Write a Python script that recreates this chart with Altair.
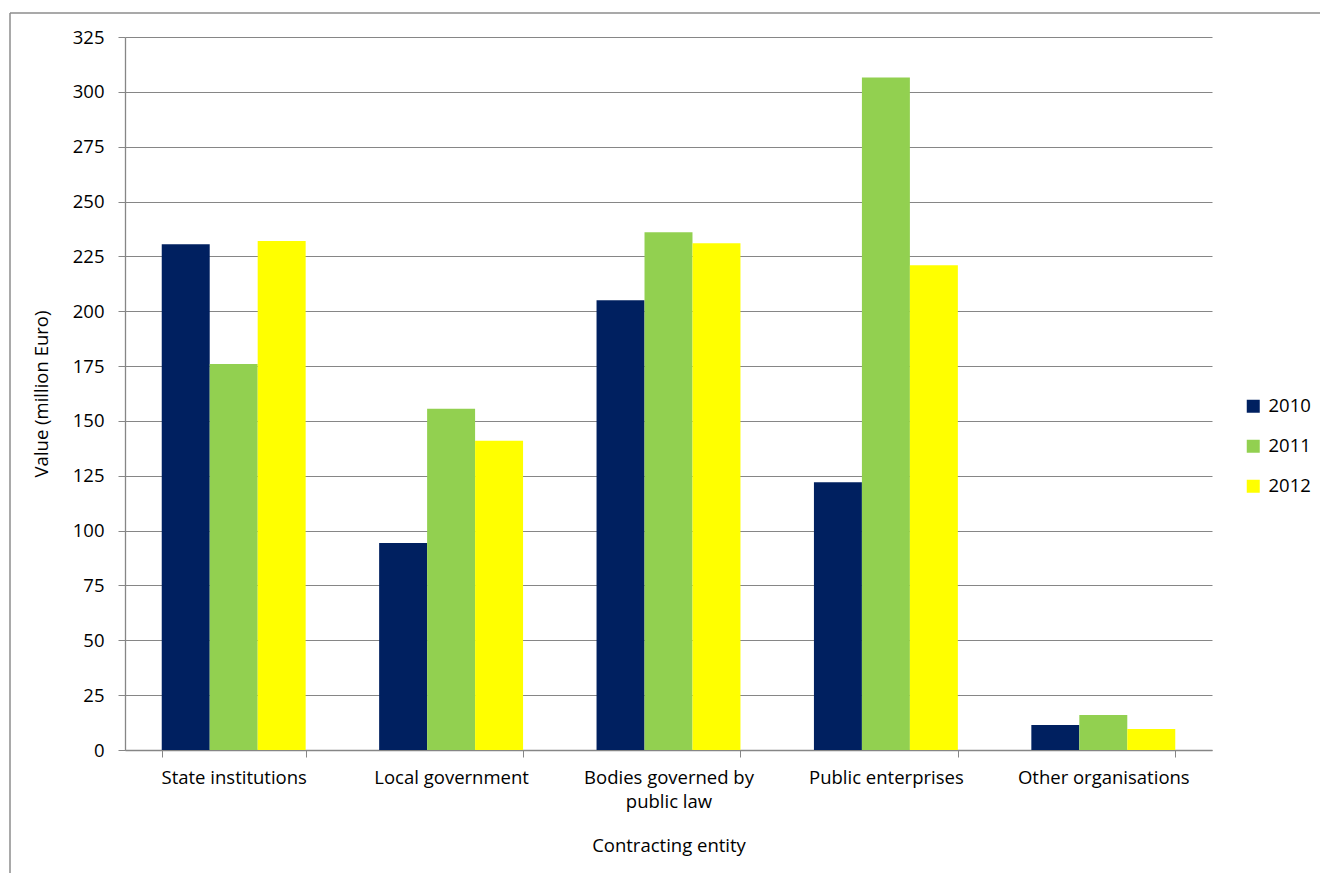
import altair as alt
import pandas as pd

# Contract value by contracting entity and year (million Euro)
entities = [
    "State institutions",
    "Local government",
    "Bodies governed by public law",
    "Public enterprises",
    "Other organisations",
]
years = ["2010", "2011", "2012"]
values_2010 = [230.5, 94.3, 205.0, 122.0, 11.4]
values_2011 = [176.0, 155.5, 236.0, 306.5, 16.0]
values_2012 = [232.0, 141.0, 231.0, 221.0, 9.6]
colors = ["#002060", "#92D050", "#FFFF00"]

rows = []
for yr, vals in zip(years, [values_2010, values_2011, values_2012]):
    for ent, v in zip(entities, vals):
        rows.append({"entity": ent, "year": yr, "value": v})
df = pd.DataFrame(rows)

FONT = "Open Sans"
FS = 18.5
W, H = 1087, 713
GRAY = "#868686"

axis_common = dict(
    labelFont=FONT,
    titleFont=FONT,
    labelFontSize=FS,
    titleFontSize=FS,
    labelColor="#000000",
    titleColor="#000000",
    titleFontWeight="normal",
    domainColor=GRAY,
    tickColor=GRAY,
    gridColor=GRAY,
    domainWidth=1.3,
    tickSize=7,
)

bars = alt.Chart(df).mark_bar(stroke=None).encode(
    x=alt.X(
        "entity:N",
        sort=entities,
        scale=alt.Scale(paddingInner=0.338, paddingOuter=0.169),
        axis=alt.Axis(
            title="Contracting entity",
            tickBand="extent",
            grid=False,
            labelAngle=0,
            labelLimit=300,
            labelExpr="datum.value == 'Bodies governed by public law' ? ['Bodies governed by', 'public law'] : datum.value",
            labelPadding=11,
            labelLineHeight=24,
            titlePadding=26,
            **axis_common,
        ),
    ),
    xOffset=alt.XOffset("year:N", sort=years),
    y=alt.Y(
        "value:Q",
        scale=alt.Scale(domain=[0, 325], nice=False),
        axis=alt.Axis(
            title="Value (million Euro)",
            values=list(range(0, 326, 25)),
            grid=True,
            labelPadding=14,
            titlePadding=21,
            **axis_common,
        ),
    ),
    color=alt.Color(
        "year:N",
        sort=years,
        scale=alt.Scale(domain=years, range=colors),
        legend=alt.Legend(
            title=None,
            orient="none",
            legendX=1119,
            legendY=360,
            symbolType="square",
            symbolSize=169,
            symbolStrokeWidth=0,
            labelFontSize=FS,
            labelFont=FONT,
            labelColor="#000000",
            labelOffset=6,
            rowPadding=21,
        ),
    ),
)

# outer frame of the figure
one = pd.DataFrame({"a": [0]})
frame_top = alt.Chart(one).mark_rule(color="#8c8c8c", strokeWidth=1.5).encode(
    x=alt.value(-115), x2=alt.value(1300), y=alt.value(-24)
)
frame_left = alt.Chart(one).mark_rule(color="#8c8c8c", strokeWidth=1.5).encode(
    x=alt.value(-115), y=alt.value(-24), y2=alt.value(900)
)

chart = (
    alt.layer(bars, frame_top, frame_left)
    .properties(
        width=W,
        height=H,
        padding={"left": 125, "top": 37, "right": 108, "bottom": 123},
        autosize=alt.AutoSizeParams(type="none"),
        background="white",
    )
    .configure_view(stroke=None)
)

chart.save("out.html", embed_options={"renderer": "svg", "actions": False})
